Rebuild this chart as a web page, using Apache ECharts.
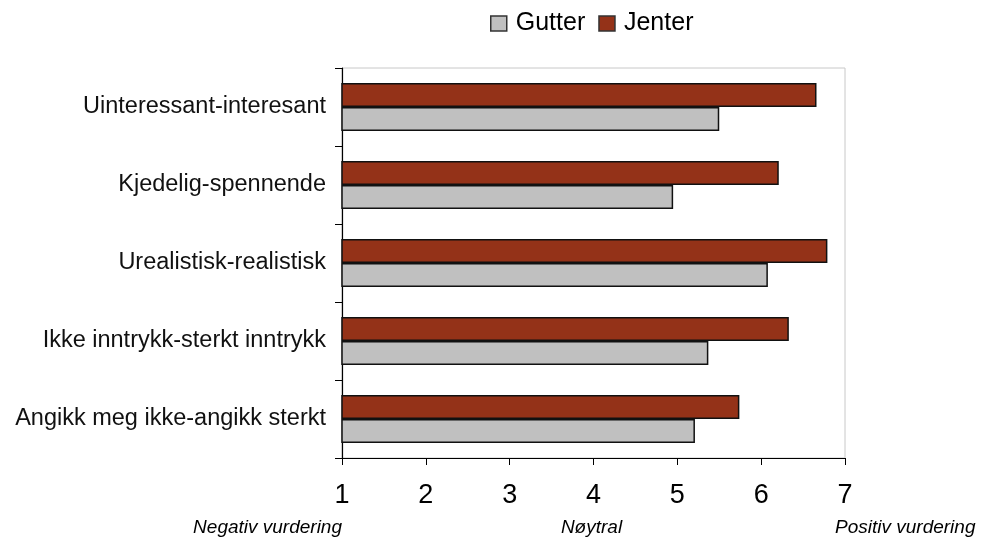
<!DOCTYPE html>
<html><head><meta charset="utf-8">
<script src="https://cdn.jsdelivr.net/npm/echarts@6/dist/echarts.min.js"></script>
<style>html,body{margin:0;padding:0;background:#fff}#c{width:981px;height:541px}</style>
</head><body><div id="c"></div>
<script>
const categories = ["Uinteressant-interesant","Kjedelig-spennende","Urealistisk-realistisk","Ikke inntrykk-sterkt inntrykk","Angikk meg ikke-angikk sterkt"];
const jenter = [6.66, 6.21, 6.79, 6.33, 5.74];
const gutter = [5.50, 4.95, 6.08, 5.37, 5.21];
const scaleLabels = [[1,"Negativ vurdering"],[4,"Nøytral"],[7,"Positiv vurdering"]];

const chart = echarts.init(document.getElementById('c'));
const option = {
  animation:false,
  textStyle:{fontFamily:'Liberation Sans, Arial, sans-serif'},
  legend:{
    data:['Gutter','Jenter'], top:6, left:485, icon:'rect', itemWidth:16, itemHeight:15, itemGap:13,
    itemStyle:{borderColor:'#333',borderWidth:1.5},
    textStyle:{fontSize:25,color:'#000',fontFamily:'Liberation Sans, Arial',padding:[0,0,0,4]}
  },
  grid:{left:342,right:136,top:68,bottom:83,show:true,borderColor:'#c8c8c8',borderWidth:1},
  xAxis:{type:'value',min:1,max:7,interval:1,
    axisLine:{show:true,lineStyle:{color:'#000',width:1.2}},
    axisTick:{show:true,length:7,lineStyle:{color:'#000'}},
    splitLine:{show:false},
    axisLabel:{margin:24,fontSize:27,color:'#000',fontFamily:'Liberation Sans Narrow, Liberation Sans, Arial'}
  },
  yAxis:{type:'category',data:categories,inverse:true,
    axisLine:{show:true,lineStyle:{color:'#000',width:1.2}},
    axisTick:{show:true,length:7,lineStyle:{color:'#000'}},
    axisLabel:{margin:16,fontSize:23.5,color:'#111'}
  },
  series:[
    {name:'Jenter',type:'bar',data:jenter,barWidth:24,barGap:'0%',barCategoryGap:'36%',
      itemStyle:{color:'#943218',borderColor:'#111',borderWidth:1.5}},
    {name:'Gutter',type:'bar',data:gutter,barWidth:24,barGap:'0%',
      itemStyle:{color:'#c0c0c0',borderColor:'#111',borderWidth:1.5}}
  ]
};
chart.setOption(option);
const y0 = 528;
const aligns = ['right','center','left'];
const offs = [0,-2,-10];
chart.setOption({graphic: scaleLabels.map((d,i)=>({
  type:'text', x: chart.convertToPixel({xAxisIndex:0}, d[0]) + offs[i], y: y0,
  style:{text:d[1], fill:'#000', align:aligns[i], verticalAlign:'middle',
    font:'italic 19px "Liberation Sans", Arial'}
}))});
</script></body></html>
